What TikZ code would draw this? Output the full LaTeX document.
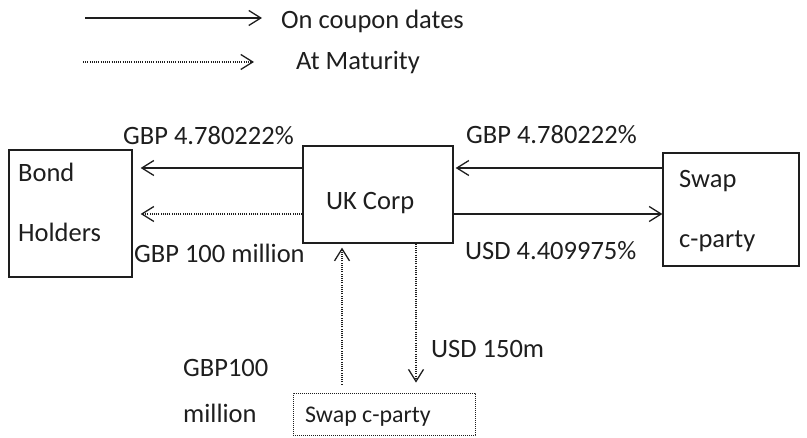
\documentclass[tikz,border=0pt]{standalone}
\usepackage{fontspec}
\setmainfont{Carlito}
\usetikzlibrary{arrows.meta}
\definecolor{ink}{HTML}{1E1E1E}
\begin{document}
\begin{tikzpicture}[x=1bp,y=-1bp,
  box/.style={draw=ink, line width=1.3bp, inner sep=0pt},
  dotbox/.style={draw=ink, line width=0.8bp, dash pattern=on 0.8bp off 1.2bp, inner sep=0pt},
  txt/.style={inner sep=0pt, anchor=base west, text=ink, font=\fontsize{26.6}{32}\selectfont},
  smalltxt/.style={inner sep=0pt, anchor=base west, text=ink, font=\fontsize{24}{29}\selectfont},
  solidarr/.style={draw=ink, line width=1.3bp, -{Straight Barb[length=12bp,width=15bp,line width=1.3bp]}},
  dotarr/.style={draw=ink, line width=1.3bp, dash pattern=on 1bp off 1.2bp, -{Straight Barb[length=12bp,width=15bp,line width=1.3bp]}}
]
\useasboundingbox (0,0) rectangle (807,438);
% legend
\coordinate (l1s) at (85,18);
\coordinate (l1e) at (262,18);
\coordinate (l2s) at (83,62);
\coordinate (l2e) at (254,62);
\draw[solidarr] (l1s) -- (l1e);
\draw[dotarr] (l2s) -- (l2e);
\node[txt] (leg1) at (281,29) {On coupon dates};
\node[txt] (leg2) at (296,70) {At Maturity};
% boxes
\node[box, minimum width=123bp, minimum height=127bp] (bond) at (70.5,213.5) {};
\node[box, minimum width=150bp, minimum height=97bp] (uk) at (378,194.5) {};
\node[box, minimum width=136bp, minimum height=113bp] (swap) at (731,209.5) {};
\node[dotbox, minimum width=182bp, minimum height=42bp] (swap2) at (384,414) {};
% box texts
\node[txt] (bondt1) at (18,182) {Bond};
\node[txt] (bondt2) at (18,242) {Holders};
\node[txt] (ukt) at (326,210) {UK Corp};
\node[txt] (swapt1) at (679,188) {Swap};
\node[txt] (swapt2) at (679,248) {c-party};
\node[smalltxt] (swap2t) at (305,422) {Swap c-party};
% labels
\node[txt] (lab1) at (123,145) {GBP 4.780222\%};
\node[txt] (lab2) at (134,263) {GBP 100 million};
\node[txt] (lab3) at (466,144) {GBP 4.780222\%};
\node[txt] (lab4) at (465,260) {USD 4.409975\%};
\node[txt] (lab5) at (431,358) {USD 150m};
\node[txt] (lab6) at (183,377) {GBP100};
\node[txt] (lab7) at (183,422) {million};
% connectors
\draw[solidarr, shorten >=8bp] (uk.west |- 0,168) -- (bond.east |- 0,168);
\draw[dotarr, shorten >=8bp] (uk.west |- 0,214) -- (bond.east |- 0,214);
\draw[solidarr, shorten >=2bp] (swap.west |- 0,168) -- (uk.east |- 0,168);
\draw[solidarr] (uk.east |- 0,214) -- (swap.west |- 0,214);
\draw[dotarr, shorten <=8bp, shorten >=4bp] (swap2.north -| 342,0) -- (uk.south -| 342,0);
\draw[dotarr, shorten >=10bp] (uk.south -| 416,0) -- (swap2.north -| 416,0);
\end{tikzpicture}
\end{document}
